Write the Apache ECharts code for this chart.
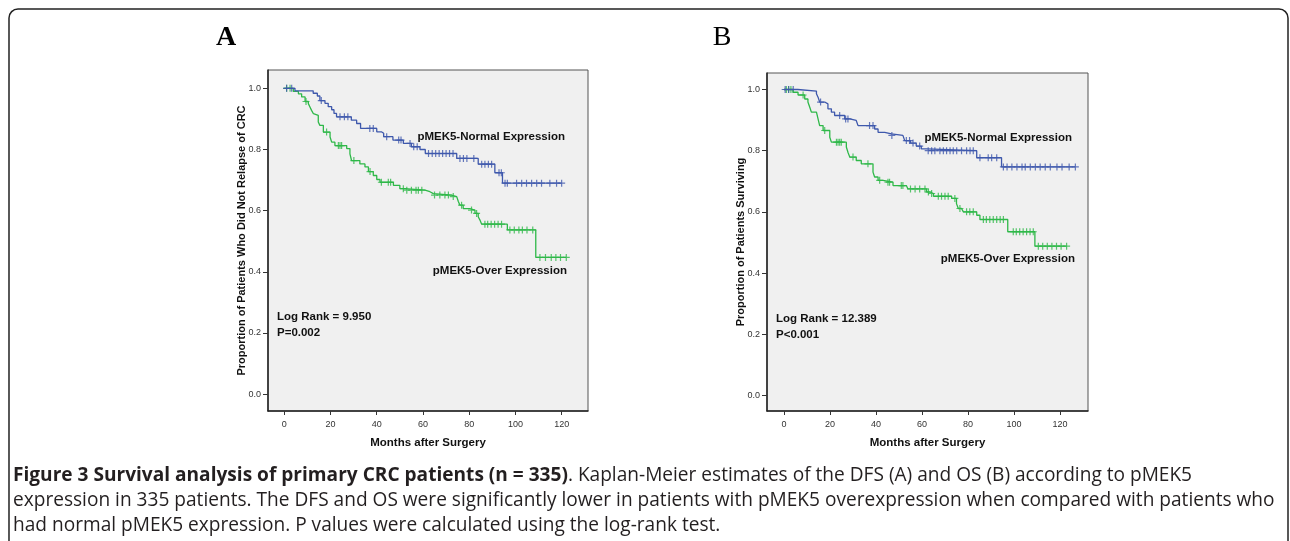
<!DOCTYPE html>
<html><head><meta charset="utf-8">
<script src="https://cdn.jsdelivr.net/npm/echarts@6/dist/echarts.min.js"></script>
<style>html,body{margin:0;padding:0;background:#fff}#c{width:1290px;height:541px}</style>
</head><body><div id="c"></div>
<script>
// ---- data ----
const xTicks = [0, 20, 40, 60, 80, 100, 120];
const yTicks = [0, 0.2, 0.4, 0.6, 0.8, 1.0];

// Panel A (DFS) : [months, proportion] after each event step
const aNormalSteps = [[0,1.0],[4.6,0.992],[12.5,0.984],[14.3,0.975],[15.4,0.96],[17.6,0.951],[19,0.94],[20.5,0.93],[21.5,0.918],[22.6,0.907],[29,0.896],[31.3,0.885],[33,0.869],[40,0.858],[42,0.853],[43,0.842],[47,0.831],[51.5,0.82],[55,0.809],[58.7,0.80],[61,0.787],[74.6,0.771],[83.9,0.752],[91.1,0.724],[94.4,0.69]];
const aNormalCensor = [1,3.2,16,24.1,26,27.5,37,38.5,44.3,49.5,50.5,54.4,56,57.5,62.4,64,65.5,67,68.5,70,71.5,73,76,77.5,79,82,85.4,86.8,88.3,89.7,92.9,93.9,95.5,96.5,100.5,102.7,104.8,107,109.2,111.3,114.9,117.8,120];
const aOverSteps = [[0,1.0],[3.9,0.99],[6.1,0.982],[7.5,0.972],[9,0.957],[10.4,0.95],[11.1,0.939],[11.8,0.928],[12.6,0.917],[13.3,0.912],[14.7,0.89],[15.4,0.879],[16.9,0.857],[19.8,0.841],[20.5,0.824],[21.9,0.813],[27,0.803],[28.4,0.786],[29.1,0.764],[32.7,0.753],[34.9,0.743],[36.4,0.728],[38.5,0.715],[40,0.702],[41.4,0.693],[47.2,0.683],[50,0.672],[52,0.667],[60.9,0.662],[63,0.656],[64.5,0.651],[72.4,0.646],[74.6,0.64],[75.3,0.63],[76,0.618],[77.4,0.607],[80.3,0.602],[82.5,0.591],[83.9,0.58],[84.6,0.57],[85.4,0.556],[96.5,0.537],[108.8,0.447]];
const aOverCensor = [1,2.5,9.4,18.3,23.4,24.1,24.8,30.1,37.1,42,45,46,51.5,53,55,57,58,59.5,65,67.3,69.5,71,73.1,76.7,81,83.2,86.8,88,89.5,91,92.5,94,97.6,99.5,101.5,103,105,107.5,110.6,113,115.5,117.5,119.5,122];

// Panel B (OS)
const bNormalSteps = [[0,1.0],[6,0.995],[14.1,0.986],[14.8,0.975],[15.5,0.959],[17.7,0.953],[19.1,0.937],[20.6,0.926],[22,0.915],[26.4,0.904],[28.6,0.899],[31.4,0.893],[32.2,0.882],[39.4,0.871],[40.9,0.86],[43.8,0.855],[46.7,0.85],[51.7,0.844],[52.5,0.833],[55,0.825],[57.5,0.815],[59.7,0.806],[61.9,0.80],[83.8,0.777],[94.6,0.747]];
const bNormalCensor = [0.5,2,4,15.9,24.2,26.8,27.8,37.2,38.7,46.9,53.2,54.6,56.1,59,62.7,64.2,65.6,67.8,69.3,70.7,72.2,73.6,75.1,77.2,79.4,80.9,82.3,85.2,88.8,90.3,92.5,95.4,97,99.1,101.3,103.5,104.9,107.1,109.3,111.4,113.6,115.8,118.7,120.9,124,126.7];
const bOverSteps = [[0,1.0],[3.9,0.991],[6.1,0.982],[9,0.969],[10.4,0.959],[11.2,0.942],[11.9,0.926],[14.1,0.921],[14.8,0.904],[15.5,0.882],[17,0.866],[19.9,0.844],[20.6,0.828],[27.1,0.812],[27.8,0.795],[28.6,0.779],[31.4,0.768],[33.6,0.757],[38.7,0.73],[39.4,0.714],[40.9,0.703],[43,0.697],[47.4,0.686],[53.2,0.681],[53.9,0.675],[62,0.665],[63.5,0.66],[65,0.651],[72.9,0.644],[75,0.627],[75.8,0.611],[77.2,0.606],[78,0.60],[83.8,0.589],[85.2,0.575],[97.3,0.535],[109.1,0.488]];
const bOverCensor = [1,2,3,8.3,17.7,22.8,23.5,24.2,24.9,30,36.5,41.6,45.2,45.9,51,51.7,55,57,59,61.3,62.8,64.2,67.1,68.5,70,71.4,74.3,76.5,79.4,80.8,82.3,86.7,88,89.5,91,92.5,94,95.4,99.7,101,102.5,104,105.5,107,108.4,110.6,112.5,114.5,116.5,118.5,120.5,122.9];

const aNotes = {normal:'pMEK5-Normal Expression', over:'pMEK5-Over Expression', stat:'Log Rank = 9.950', p:'P=0.002'};
const bNotes = {normal:'pMEK5-Normal Expression', over:'pMEK5-Over Expression', stat:'Log Rank = 12.389', p:'P<0.001'};

// ---- helpers ----
function survAt(steps, t){ let s = steps[0][1]; for (const st of steps){ if (st[0] <= t) s = st[1]; } return s; }
function lineData(steps, censor){ const last = Math.max(...censor); return steps.concat([[last, survAt(steps,last)]]); }
function censorData(steps, censor){ return censor.map(t => [t, survAt(steps, t)]); }

const BLUE = '#3E58AC', GREEN = '#2EB848';
const FONT = 'Liberation Sans, Arial, sans-serif';
const plus = 'path://M-0.6,-3.5 h1.2 v2.9 h2.9 v1.2 h-2.9 v2.9 h-1.2 v-2.9 h-2.9 v-1.2 h2.9 z';

function xAx(gi, min, max){ return {
  type:'value', gridIndex:gi, min:min, max:max,
  axisLine:{show:true, onZero:false, lineStyle:{color:'#222', width:1.5}},
  axisTick:{show:true, customValues:xTicks, length:4, lineStyle:{color:'#333'}},
  axisLabel:{customValues:xTicks, fontSize:9, color:'#333', margin:9, fontFamily:FONT},
  splitLine:{show:false},
  name:'Months after Surgery', nameLocation:'middle', nameGap:26, nameMoveOverlap:false,
  nameTextStyle:{fontWeight:'bold', fontSize:11.5, color:'#111', fontFamily:FONT}
};}
function yAx(gi, min, max, name){ return {
  type:'value', gridIndex:gi, min:min, max:max,
  axisLine:{show:true, onZero:false, lineStyle:{color:'#222', width:1.5}},
  axisTick:{show:true, customValues:yTicks, length:5, lineStyle:{color:'#333'}},
  axisLabel:{customValues:yTicks, fontSize:9, color:'#333', margin:7, fontFamily:FONT, formatter:v=>v.toFixed(1)},
  splitLine:{show:false},
  name:name, nameLocation:'middle', nameGap:26, nameMoveOverlap:false,
  nameTextStyle:{fontWeight:'bold', fontSize:11, color:'#111', fontFamily:FONT, verticalAlign:'middle'}
};}
function curve(gi, steps, censor, color){ return [
  {type:'line', xAxisIndex:gi, yAxisIndex:gi, step:'end', showSymbol:false, data:lineData(steps,censor),
   lineStyle:{color:color, width:1.3}, silent:true, animation:false},
  {type:'scatter', xAxisIndex:gi, yAxisIndex:gi, symbol:plus, symbolSize:7, data:censorData(steps,censor),
   itemStyle:{color:color}, silent:true, animation:false}
];}
function note(x, y, text, align){ return {type:'text', x:x, y:y, style:{text:text, fill:'#111', font:'bold 11.5px '+FONT, align:align||'left', verticalAlign:'middle'}}; }

const captionFont = '19.1px "Open Sans", sans-serif';
const chart = echarts.init(document.getElementById('c'));
chart.setOption({
  animation:false,
  grid:[
    {left:268, top:70, width:320, height:341, show:true, backgroundColor:'#f0f0f0', borderColor:'#555', borderWidth:1},
    {left:767, top:73, width:321, height:338, show:true, backgroundColor:'#f0f0f0', borderColor:'#555', borderWidth:1}
  ],
  xAxis:[xAx(0,-7.05,131.4), xAx(1,-7.4,132.2)],
  yAxis:[yAx(0,-0.055,1.06,'Proportion of Patients Who Did Not Relapse of CRC'), yAx(1,-0.051,1.054,'Proportion of Patients Surviving')],
  series:[].concat(
    curve(0,aOverSteps,aOverCensor,GREEN), curve(0,aNormalSteps,aNormalCensor,BLUE),
    curve(1,bOverSteps,bOverCensor,GREEN), curve(1,bNormalSteps,bNormalCensor,BLUE)
  ),
  graphic:[
    {type:'rect', shape:{x:9, y:9, width:1279, height:620, r:9}, style:{fill:'none', stroke:'#222', lineWidth:1.5}, z:-1},
    {type:'text', x:226, y:38, style:{text:'A', font:'bold 28px "Liberation Serif", serif', fill:'#000', align:'center', verticalAlign:'middle'}},
    {type:'text', x:722, y:38, style:{text:'B', font:'28px "Liberation Serif", serif', fill:'#000', align:'center', verticalAlign:'middle'}},
    note(565,137,aNotes.normal,'right'), note(567,271,aNotes.over,'right'),
    note(277,317,aNotes.stat), note(277,333,aNotes.p),
    note(1072,138,bNotes.normal,'right'), note(1075,259,bNotes.over,'right'),
    note(776,319,bNotes.stat), note(776,335,bNotes.p),
    {type:'text', x:13, y:476, style:{text:'{b|Figure 3 Survival analysis of primary CRC patients (n = 335)}. Kaplan-Meier estimates of the DFS (A) and OS (B) according to pMEK5',
      font:captionFont, fill:'#231f20', verticalAlign:'middle', rich:{b:{font:'bold '+captionFont, fill:'#231f20'}}}},
    {type:'text', x:13, y:501, style:{text:'expression in 335 patients. The DFS and OS were significantly lower in patients with pMEK5 overexpression when compared with patients who', font:captionFont, fill:'#231f20', verticalAlign:'middle'}},
    {type:'text', x:13, y:526, style:{text:'had normal pMEK5 expression. P values were calculated using the log-rank test.', font:captionFont, fill:'#231f20', verticalAlign:'middle'}}
  ]
});
</script></body></html>
